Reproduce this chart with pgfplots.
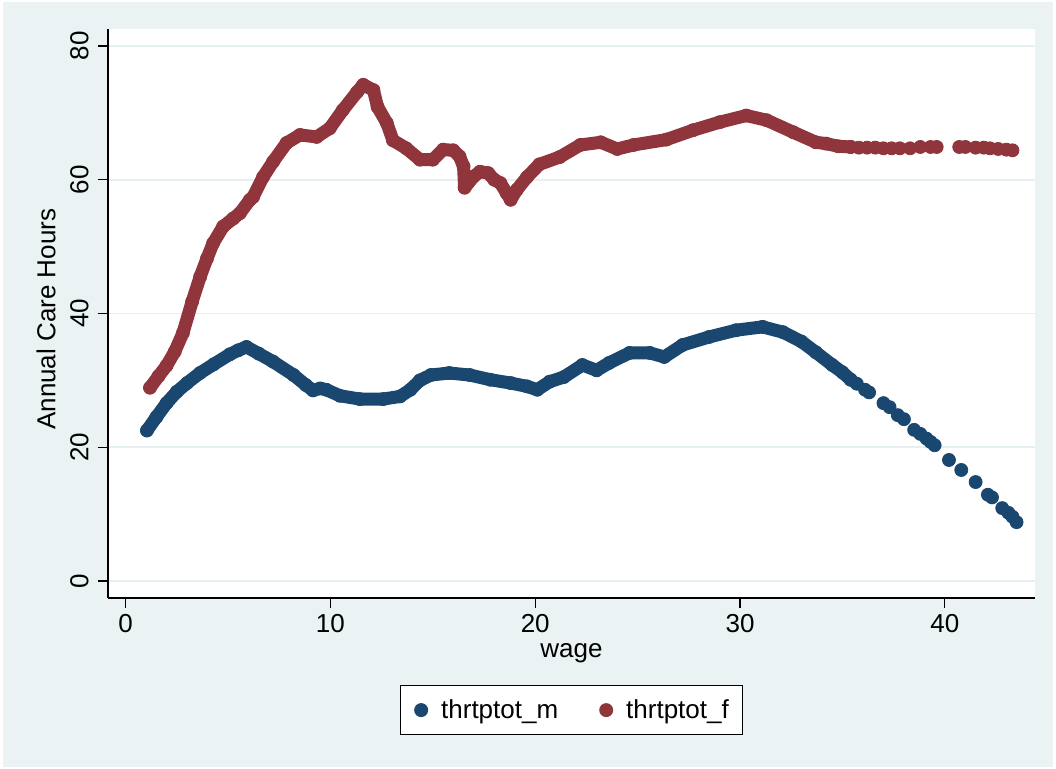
\documentclass[border=0pt]{standalone}
\usepackage{fontspec}
\setmainfont{Liberation Sans}
\usepackage{pgfplots}
\usepackage{pgfplotstable}
\pgfplotsset{compat=1.18}
\definecolor{bgc}{HTML}{EAF2F3}
\definecolor{sblue}{HTML}{1A476F}
\definecolor{sred}{HTML}{90353B}
\definecolor{gridc}{HTML}{E6EFF1}

\pgfplotstableread{
x y
1.04 22.5
1.5 24.5
2.0 26.6
2.5 28.3
3.0 29.6
3.63 31.1
4.3 32.4
5.09 33.9
5.5 34.5
5.9 35.0
6.5 34.0
7.2 32.8
8.2 30.8
8.8 29.3
9.15 28.5
9.5 28.8
9.8 28.6
10.46 27.7
11.44 27.2
12.57 27.2
13.4 27.6
13.9 28.6
14.37 30.0
14.9 30.8
15.8 31.1
16.8 30.8
17.8 30.1
18.8 29.6
19.6 29.1
20.1 28.6
20.7 29.8
21.4 30.5
22.3 32.3
23.0 31.5
23.6 32.6
24.6 34.1
25.6 34.1
26.3 33.5
27.2 35.3
28.5 36.5
29.8 37.5
31.1 38.0
32.1 37.2
33.0 35.8
33.7 34.2
34.5 32.3
35.0 31.2
35.4 30.1
}\bluemain

\pgfplotstableread{
x y
35.4 30.1
35.7 29.5
36.1 28.6
36.3 28.2
37.0 26.6
37.3 26.0
37.7 24.8
38.0 24.2
38.5 22.6
38.8 22.0
39.1 21.3
39.3 20.8
39.5 20.3
40.2 18.1
40.8 16.6
41.5 14.8
42.1 12.9
42.3 12.5
42.8 10.9
43.1 10.2
43.3 9.6
43.5 8.8
}\bluetail

\pgfplotstableread{
x y
1.19 28.9
1.6 30.6
2.0 32.2
2.4 34.3
2.8 37.1
3.25 41.8
3.64 45.5
3.97 48.2
4.27 50.5
4.76 53.0
5.25 54.2
5.58 55.0
6.07 57.0
6.22 57.4
6.71 60.4
7.2 62.7
7.86 65.5
8.51 66.7
9.33 66.4
9.97 67.7
10.6 70.4
11.3 73.1
11.6 74.2
12.1 73.4
12.3 70.9
12.75 68.5
13.05 65.9
13.7 64.7
14.37 63.0
15.0 63.0
15.5 64.5
16.0 64.4
16.3 63.5
16.5 62.0
16.55 58.8
17.0 60.5
17.3 61.2
17.7 61.0
18.0 60.0
18.3 59.5
18.6 58.0
18.8 57.0
19.1 58.5
19.6 60.4
20.2 62.3
21.2 63.4
22.2 65.2
23.2 65.6
24.0 64.6
24.8 65.2
26.4 66.0
27.7 67.4
29.0 68.6
30.3 69.6
31.3 68.9
32.6 67.1
33.7 65.6
34.2 65.4
34.8 65.0
35.4 64.9
}\redmain

\pgfplotstableread{
x y
35.4 64.9
35.8 64.8
36.2 64.8
36.6 64.8
37.0 64.7
37.4 64.7
37.8 64.7
38.3 64.7
38.8 64.9
39.3 64.9
39.6 64.9
40.7 64.9
41.0 64.9
41.5 64.8
41.9 64.8
42.2 64.7
42.6 64.6
43.0 64.5
43.3 64.4
}\redtail

\begin{document}
\begin{tikzpicture}
\fill[white] (-54bp,-85.5bp) rectangle (474bp,299bp);
\fill[bgc] (-52.5bp,-84.5bp) rectangle (472.5bp,298bp);
\begin{axis}[
  at={(0,0)}, anchor=south west,
  scale only axis, width=463.5bp, height=284.5bp,
  xmin=-0.86, xmax=44.4, ymin=-2.54, ymax=82.54,
  axis x line*=bottom, axis y line*=left,
  axis background/.style={fill=white},
  xtick={0,10,20,30,40}, ytick={0,20,40,60,80},
  tick align=outside, major tick length=5bp,
  tick style={black, line width=0.6bp},
  axis line style={black, line width=0.6bp},
  ymajorgrids, grid style={gridc, line width=0.8bp},
  font=\fontsize{13bp}{15bp}\selectfont,
  tick label style={font=\fontsize{13bp}{15bp}\selectfont},
  /pgf/number format/assume math mode=true,
  yticklabel style={rotate=90, anchor=south, inner sep=4.5bp},
  xticklabel style={inner sep=3bp},
  xlabel={wage}, ylabel={Annual Care Hours},
  xlabel style={at={(axis description cs:0.5,-0.0967)}, anchor=center},
  ylabel style={at={(axis description cs:-0.0669,0.49)}, anchor=center},
  legend columns=2,
  legend style={at={(axis description cs:0.5,-0.1529)}, anchor=north,
    draw=black, line width=0.6bp, fill=white,
    inner xsep=7bp, inner ysep=2.5bp,
    font=\fontsize{13bp}{15bp}\selectfont,
    nodes={inner xsep=0bp, inner ysep=4.3bp},
    /tikz/every even column/.append style={column sep=20.5bp},
    /tikz/every odd column/.append style={column sep=0bp}},
  legend image code/.code={\path[draw=none, fill=none] (0bp,0bp) (13.5bp,0bp); \fill[#1, draw=none] (3.5bp,0bp) circle (3.5bp);},
]
\addplot[sblue, line width=6.5bp, line join=round, line cap=round, forget plot] table {\bluemain};
\addplot[sred, line width=6.5bp, line join=round, line cap=round, forget plot] table {\redmain};
\addplot[sblue, only marks, mark=*, mark size=3.25bp, mark options={draw=none}, forget plot] table {\bluetail};
\addplot[sred, only marks, mark=*, mark size=3.25bp, mark options={draw=none}, forget plot] table {\redtail};
\addplot[sblue, only marks, mark=*, mark size=3.25bp, mark options={draw=none}] table {\bluemain};
\addlegendentry{thrtptot\_m}
\addplot[sred, only marks, mark=*, mark size=3.25bp, mark options={draw=none}] table {\redmain};
\addlegendentry{thrtptot\_f}
\end{axis}
\pgfresetboundingbox
\useasboundingbox (-54bp,-85.5bp) rectangle (474bp,299bp);
\end{tikzpicture}
\end{document}
